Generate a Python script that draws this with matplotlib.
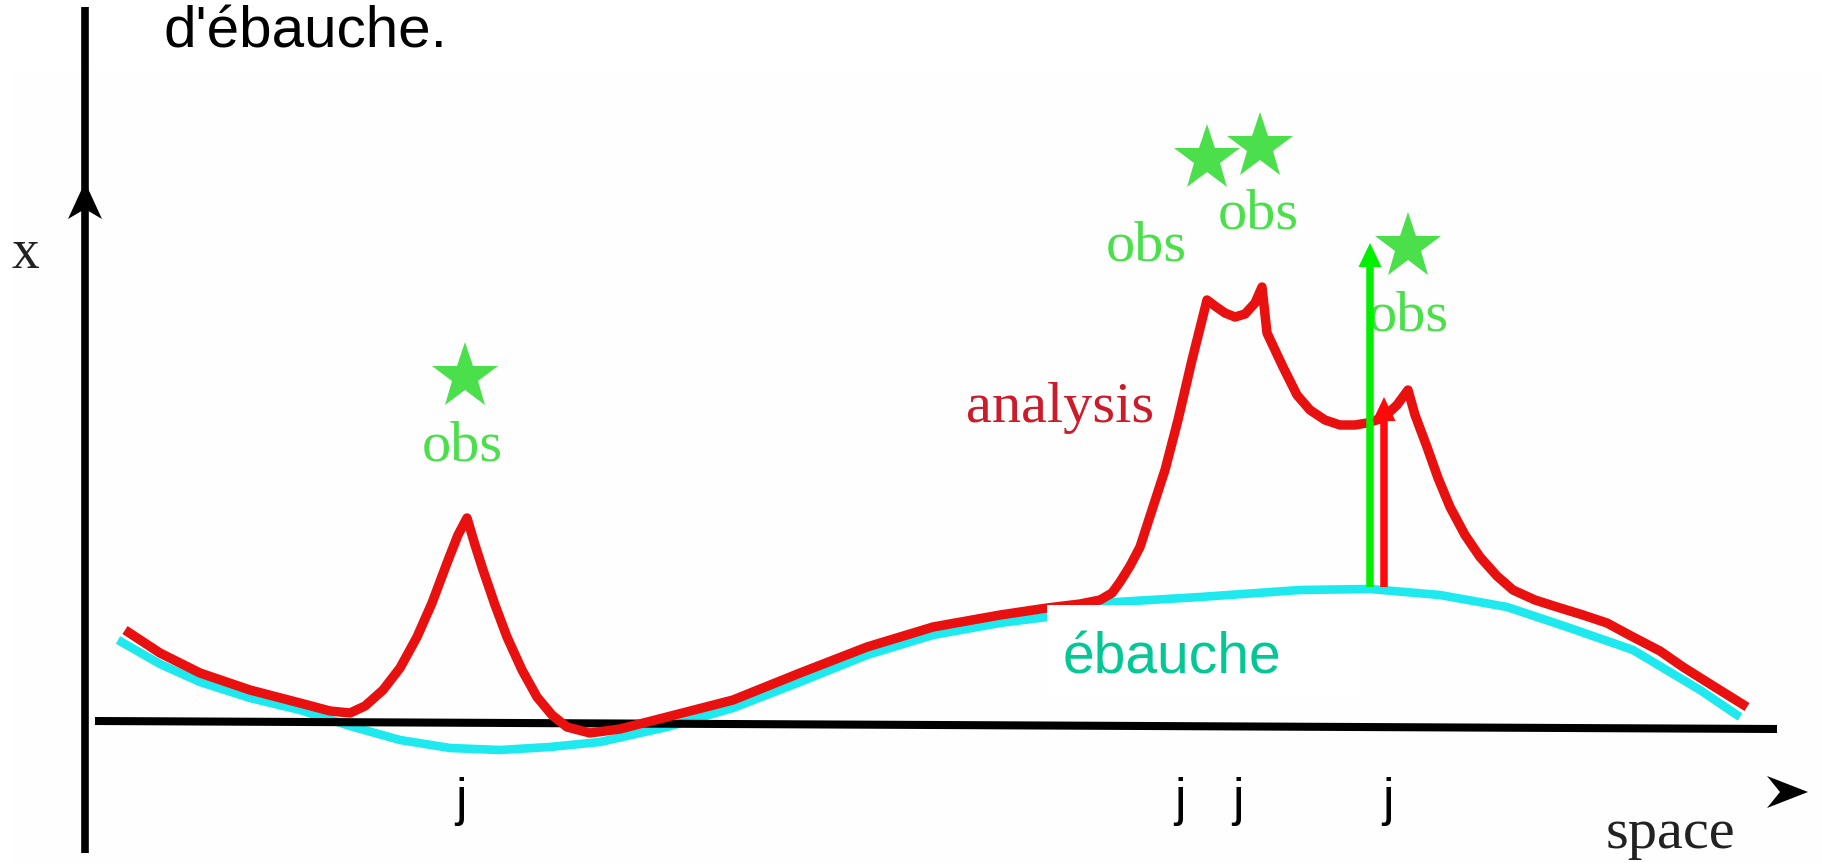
import numpy as np
import matplotlib
matplotlib.use("Agg")
import matplotlib.pyplot as plt
from matplotlib.patches import Polygon, Rectangle

# curves, in pixel units (x to the right, y downward)
analysis_x = [125, 160, 200, 250, 300, 330, 350, 365, 383, 400, 417, 432, 447, 458, 467,
              475, 483, 495, 507, 522, 537, 552, 567, 590, 620, 667, 733, 800, 867, 933,
              1000, 1047, 1080, 1100, 1112, 1120, 1130, 1140, 1152, 1165, 1178, 1192, 1207,
              1215, 1225, 1235, 1245, 1255, 1262,
              1267, 1283, 1297, 1310, 1325, 1340, 1355, 1367, 1383, 1397, 1408,
              1415, 1427, 1438, 1450, 1465, 1480, 1497, 1513, 1535, 1557, 1583, 1607,
              1633, 1660, 1683, 1710, 1747]
analysis_y = [630, 653, 673, 690, 703, 711, 713, 706, 690, 668, 637, 603, 563, 535, 518,
              545, 570, 605, 637, 670, 697, 715, 727, 733, 729, 717, 700, 673, 647, 627,
              615, 608, 604, 600, 593, 582, 566, 547, 510, 470, 420, 360, 300,
              306, 313, 317, 314, 303, 287,
              333, 367, 395, 410, 420, 425, 425, 423, 418, 405, 390,
              415, 447, 478, 507, 535, 557, 576, 590, 600, 607, 615, 623,
              637, 651, 667, 684, 707]

ebauche_x = [118, 160, 200, 250, 300, 350, 400, 450, 500, 550, 600, 667, 733, 800, 867,
             933, 1000, 1047, 1100, 1200, 1300, 1370, 1440, 1507, 1567, 1633, 1700, 1740]
ebauche_y = [640, 664, 682, 698, 710, 726, 740, 748, 750, 747, 742, 727, 708, 682, 655,
             635, 623, 617, 603, 597, 590, 589, 595, 607, 627, 650, 690, 717]

obs_star_x = [465, 1207, 1260, 1408]
obs_star_y = [377, 159, 147, 247]
obs_label_x = [462, 1146, 1258, 1408]
obs_label_y = [460, 260, 228, 330]

j_x = [461, 1180, 1238, 1388]

# increment arrows: (x, bottom, top)
obs_arrow = (1370, 587, 243)
ana_arrow = (1384, 587, 397)

RED = "#e8110f"
CYAN = "#1ee9ef"
OBS_GREEN = "#4be04b"
SERIF = "Liberation Serif"
SANS = "Liberation Sans"

fig = plt.figure(figsize=(18.22, 8.63), dpi=100)
ax = fig.add_axes([0, 0, 1, 1])
ax.set_xlim(0, 1822)
ax.set_ylim(863, 0)
ax.axis("off")

# faint background of the pasted figure
ax.add_patch(Rectangle((12, 70), 1810, 793, facecolor="#fefefe", edgecolor="none", zorder=0))

# axes of the sketch
ax.plot([85, 85], [7, 853], color="black", lw=5.5, solid_capstyle="butt", zorder=2)
ax.add_patch(Polygon([(85, 182), (102, 219), (85, 209), (68, 219)], closed=True,
                     facecolor="black", edgecolor="none", zorder=3))
ax.plot([95, 1777], [721, 729], color="black", lw=5.8, solid_capstyle="butt", zorder=4)
ax.add_patch(Polygon([(1808, 792), (1767, 776), (1780, 792), (1767, 808)], closed=True,
                     facecolor="black", edgecolor="none", zorder=3))

# background and analysis curves
ax.plot(ebauche_x, ebauche_y, color=CYAN, lw=6.2, solid_joinstyle="round",
        solid_capstyle="butt", zorder=3)
ax.plot(analysis_x, analysis_y, color=RED, lw=6.8, solid_joinstyle="round",
        solid_capstyle="butt", zorder=5)

# observations
ax.plot(obs_star_x, obs_star_y, linestyle="none", marker="*", markersize=50,
        color=OBS_GREEN, markeredgewidth=0, zorder=6)
for x, y in zip(obs_label_x, obs_label_y):
    ax.text(x, y, "obs", color=OBS_GREEN, fontsize=42, family=SERIF,
            ha="center", va="baseline", zorder=6)

# increments
for (x, y0, y1), col in [(obs_arrow, "#00f000"), (ana_arrow, "#ff0a0a")]:
    ax.arrow(x, y0, 0, y1 - y0, width=7.5, head_width=23, head_length=24,
             length_includes_head=True, color=col, linewidth=0, zorder=7)

# white label box over the curves
ax.add_patch(Rectangle((1047, 605), 313, 90, facecolor="white", edgecolor="none", zorder=8))
ax.text(1063, 673, "ébauche", color="#05c795", fontsize=41, family=SANS,
        ha="left", va="baseline", zorder=9)

ax.text(966, 422, "analysis", color="#cc1b2b", fontsize=42, family=SERIF,
        ha="left", va="baseline", zorder=6)
ax.text(11, 268, "x", color="#222222", fontsize=40, family=SERIF,
        ha="left", va="baseline")
ax.text(1606, 848, "space", color="#222222", fontsize=42, family=SERIF,
        ha="left", va="baseline")

for x in j_x:
    ax.text(x, 815, "j", color="black", fontsize=37, family=SANS,
            ha="center", va="baseline")

ax.text(164, 47, "d'ébauche.", color="black", fontsize=42, family=SANS,
        ha="left", va="baseline")

fig.savefig("out.png", dpi=100)
